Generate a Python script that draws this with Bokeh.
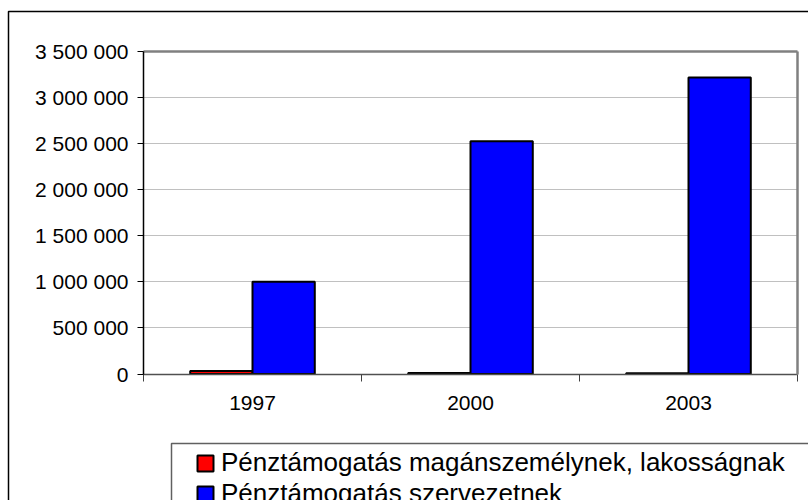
from bokeh.plotting import figure
from bokeh.models import (LinearAxis, FixedTicker, Legend, LegendItem, BoxAnnotation, Range1d)
from bokeh.embed import file_html
from bokeh.resources import INLINE
import numpy as np

# ---- data ----
years = ["1997", "2000", "2003"]
maganszemely = [32000, 10000, 9000]          # Pénztámogatás magánszemélynek, lakosságnak
szervezet = [1000000, 2522000, 3213000]      # Pénztámogatás szervezetnek
series_labels = ["Pénztámogatás magánszemélynek, lakosságnak",
                 "Pénztámogatás szervezetnek"]
y_ticks = [0, 500000, 1000000, 1500000, 2000000, 2500000, 3000000, 3500000]
y_tick_labels = ["0", "500 000", "1 000 000", "1 500 000", "2 000 000",
                 "2 500 000", "3 000 000", "3 500 000"]

FONT = "Liberation Sans"
W, H = 808, 500
# plot-area placement (pixels)
PL, PR, PT, PB = 143.0, 797.0, 50.5, 373.5
YMAX = 3500000
ncat = len(years)
xs = (PR - PL) / ncat
ys = (PB - PT) / YMAX
x_start = -PL / xs
x_end = ncat + (W - PR) / xs
y_start = -(H - PB) / ys
y_end = YMAX + PT / ys

idx = np.arange(ncat)
bw = 2 / 7.0

p = figure(width=W, height=H, output_backend="svg", toolbar_location=None,
           x_range=Range1d(x_start, x_end), y_range=Range1d(y_start, y_end),
           min_border=0)
p.title.visible = False
p.outline_line_color = None
p.background_fill_color = "white"
p.border_fill_color = "white"

r1 = p.vbar(x=idx + 0.5 - bw / 2, top=maganszemely, width=bw, bottom=0,
            fill_color="#FF0000", line_color="black", line_width=2)
r2 = p.vbar(x=idx + 0.5 + bw / 2, top=szervezet, width=bw, bottom=0,
            fill_color="#0000FF", line_color="black", line_width=2)

# grid
p.xgrid.visible = False
p.ygrid.ticker = FixedTicker(ticks=y_ticks)
p.ygrid.bounds = (0, YMAX)
p.ygrid.cross_bounds = (0, ncat)
p.ygrid.grid_line_color = "#C0C0C0"
p.ygrid.grid_line_width = 1
p.ygrid.level = "underlay"

# y axis
ya = p.yaxis[0]
ya.fixed_location = 0
ya.bounds = (0, YMAX)
ya.ticker = FixedTicker(ticks=y_ticks)
ya.major_label_overrides = {t: l for t, l in zip(y_ticks, y_tick_labels)}
ya.major_tick_out = 6
ya.major_tick_in = 0
ya.minor_tick_line_color = None
ya.axis_line_color = "black"
ya.axis_line_width = 1.5
ya.major_tick_line_color = "black"
ya.major_label_text_font = FONT
ya.major_label_text_font_size = "21px"
ya.major_label_text_color = "black"
ya.major_label_standoff = 9

# x axis
xa = p.xaxis[0]
xa.fixed_location = 0
xa.bounds = (0, ncat)
xa.ticker = FixedTicker(ticks=list(idx + 0.5), minor_ticks=list(np.arange(ncat + 1)))
xa.major_label_overrides = {float(i + 0.5): y for i, y in zip(idx, years)}
xa.major_tick_line_color = None
xa.major_tick_out = 7
xa.major_tick_in = 0
xa.minor_tick_line_color = "#404040"
xa.minor_tick_out = 7
xa.minor_tick_in = 0
xa.axis_line_color = "#505050"
xa.axis_line_width = 1.5
xa.major_label_text_font = FONT
xa.major_label_text_font_size = "21px"
xa.major_label_text_color = "black"
xa.major_label_standoff = 15

# gray top/right plot-area edges
right_ax = LinearAxis(fixed_location=ncat, bounds=(0, YMAX), ticker=FixedTicker(ticks=[]),
                      major_tick_line_color=None, minor_tick_line_color=None,
                      axis_line_color="#808080", axis_line_width=2.5,
                      major_label_text_alpha=0)
p.add_layout(right_ax, "right")
top_ax = LinearAxis(fixed_location=YMAX, bounds=(0, ncat), ticker=FixedTicker(ticks=[]),
                    major_tick_line_color=None, minor_tick_line_color=None,
                    axis_line_color="#808080", axis_line_width=2.5,
                    major_label_text_alpha=0)
p.add_layout(top_ax, "above")

# outer chart border
p.add_layout(BoxAnnotation(left=8, right=W + 20, top=11, bottom=H + 20,
                           left_units="canvas", right_units="canvas",
                           top_units="canvas", bottom_units="canvas",
                           fill_alpha=0, line_color="black", line_alpha=1,
                           line_width=1.5, level="underlay"))
# legend box
p.add_layout(BoxAnnotation(left=171, right=W + 20, top=443, bottom=H + 20,
                           left_units="canvas", right_units="canvas",
                           top_units="canvas", bottom_units="canvas",
                           fill_alpha=0, line_color="#606060", line_alpha=1,
                           line_width=1.5))

legend = Legend(items=[LegendItem(label=series_labels[0], renderers=[r1]),
                       LegendItem(label=series_labels[1], renderers=[r2])],
                location=(195, -9), orientation="vertical",
                padding=0, margin=0, spacing=0,
                glyph_width=20, glyph_height=20, label_height=20,
                label_standoff=6,
                label_text_font=FONT, label_text_font_size="26px",
                label_text_color="black",
                border_line_alpha=0, background_fill_alpha=0)
p.add_layout(legend, "center")

open("out.html", "w").write(file_html(p, INLINE))
